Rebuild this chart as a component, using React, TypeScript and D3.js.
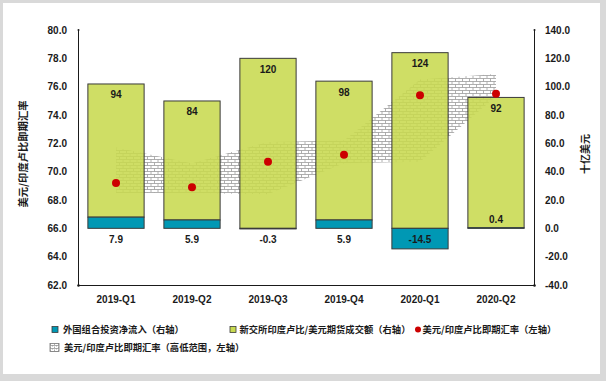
import React from "react";
import * as d3 from "d3";

const categories = ["2019-Q1", "2019-Q2", "2019-Q3", "2019-Q4", "2020-Q1", "2020-Q2"];
const fpiInflow = [7.9, 5.9, -0.3, 5.9, -14.5, 0.4];
const futuresVolume = [94, 84, 120, 98, 124, 92];
const spotRate = [69.2, 68.9, 70.7, 71.2, 75.4, 75.5];
const rangeHigh = [71.7, 70.6, 72.1, 72.2, 76.5, 76.9];
const rangeLow = [68.5, 68.5, 68.4, 70.6, 70.7, 75.3];
const leftTicks = [62, 64, 66, 68, 70, 72, 74, 76, 78, 80];
const rightTicks = [-40, -20, 0, 20, 40, 60, 80, 100, 120, 140];
const legendLabels = [
  "外国组合投资净流入（右轴）",
  "新交所印度卢比/美元期货成交额（右轴）",
  "美元/印度卢比即期汇率（左轴）",
  "美元/印度卢比即期汇率（高低范围，左轴）",
];
const leftTitle = "美元/印度卢比即期汇率";
const rightTitle = "十亿美元";

const W = 606;
const H = 381;
const plotL = 78;
const plotR = 534;
const plotT = 30;
const plotB = 285;

const GREEN = "#C8DA50";
const BLUE = "#0098B4";
const RED = "#CC0000";
const STROKE = "#3a3a3a";
const NUM_FONT = "'Liberation Sans', Arial, sans-serif";
const CJK_FONT = "'Noto Sans CJK SC', 'Noto Sans', sans-serif";

export default function App() {
  const x = d3
    .scaleBand<string>()
    .domain(categories)
    .range([plotL, plotR])
    .paddingInner(0.26)
    .paddingOuter(0.13);
  const yL = d3.scaleLinear().domain([62, 80]).range([plotB, plotT]);
  const yR = d3.scaleLinear().domain([-40, 140]).range([plotB, plotT]);
  const cx = (c: string) => (x(c) as number) + x.bandwidth() / 2;

  const band = d3
    .area<number>()
    .x((_, i) => cx(categories[i]))
    .y0((_, i) => yL(rangeLow[i]))
    .y1((_, i) => yL(rangeHigh[i]))(categories.map((_, i) => i)) as string;

  const y0 = yR(0);

  return (
    <svg
      width={W}
      height={H}
      style={{ position: "absolute", left: 0, top: 0, display: "block" }}
    >
      <defs>
        <pattern id="brick" width="7" height="6" patternUnits="userSpaceOnUse">
          <rect width="7" height="6" fill="#ffffff" />
          <path
            d="M0,0.5H7M0,3.5H7M0.5,0.5V3.5M4,3.5V6.5"
            stroke="#9a9a9a"
            strokeWidth={0.8}
            fill="none"
          />
        </pattern>
        <pattern id="brickSmall" width="4" height="3" patternUnits="userSpaceOnUse">
          <rect width="4" height="3" fill="#ffffff" />
          <path d="M0,0.5H4M0.5,0.5V1.5M2.5,1.5V3" stroke="#8a8a8a" strokeWidth={0.7} fill="none" />
        </pattern>
      </defs>
      <rect x={0} y={0} width={W} height={H} fill="#d9d9d9" />
      <rect x={3} y={3} width={597} height={371} fill="#ffffff" />

      {/* high-low range band */}
      <path d={band} fill="url(#brick)" />

      {/* bars */}
      {categories.map((c, i) => {
        const b = fpiInflow[i];
        const g = futuresVolume[i];
        const base = Math.max(0, b);
        const bx = x(c) as number;
        const bw = x.bandwidth();
        const gTop = yR(base + g);
        const gBot = yR(base);
        const bTop = yR(Math.max(0, b));
        const bBot = yR(Math.min(0, b));
        return (
          <g key={c}>
            <rect
              x={bx}
              y={gTop}
              width={bw}
              height={gBot - gTop}
              fill={GREEN}
              fillOpacity={0.88}
              stroke={STROKE}
              strokeWidth={1}
            />
            <rect
              x={bx}
              y={bTop}
              width={bw}
              height={Math.max(bBot - bTop, 0.6)}
              fill={BLUE}
              stroke={STROKE}
              strokeWidth={1}
            />
          </g>
        );
      })}

      {/* spot rate dots */}
      {categories.map((c, i) => (
        <circle key={c} cx={cx(c)} cy={yL(spotRate[i])} r={4} fill={RED} />
      ))}

      {/* value labels */}
      {categories.map((c, i) => {
        const base = Math.max(0, fpiInflow[i]);
        const gTop = yR(base + futuresVolume[i]);
        const b = fpiInflow[i];
        const by = b > 0 && b < 2 ? y0 - 9 : y0 + 11;
        return (
          <g key={c} fontFamily={NUM_FONT} fontWeight="bold" fontSize={10} fill="#1a1a1a" textAnchor="middle">
            <text x={cx(c)} y={gTop + 11} dy="0.35em">
              {futuresVolume[i]}
            </text>
            <text x={cx(c)} y={by} dy="0.35em">
              {b.toFixed(1)}
            </text>
          </g>
        );
      })}

      {/* axes */}
      <g stroke="#1a1a1a" strokeWidth={1}>
        <line x1={plotL + 0.5} x2={plotL + 0.5} y1={plotT} y2={plotB} />
        <line x1={plotR + 0.5} x2={plotR + 0.5} y1={plotT} y2={plotB} />
        <line x1={plotL} x2={plotR + 1} y1={plotB + 0.5} y2={plotB + 0.5} />
      </g>
      <g fill="#1a1a1a">
        <circle cx={plotL + 0.5} cy={plotT} r={1} />
        <circle cx={plotR + 0.5} cy={plotT} r={1} />
        <circle cx={plotL + 0.5} cy={plotB + 0.5} r={1.3} />
        <circle cx={plotR + 0.5} cy={plotB + 0.5} r={1.3} />
      </g>
      <g fontFamily={NUM_FONT} fontWeight="bold" fontSize={10} fill="#1a1a1a">
        {leftTicks.map((t) => (
          <text key={t} x={67} y={yL(t)} dy="0.35em" textAnchor="end">
            {t.toFixed(1)}
          </text>
        ))}
        {rightTicks.map((t) => (
          <text key={t} x={545} y={yR(t)} dy="0.35em" textAnchor="start">
            {t.toFixed(1)}
          </text>
        ))}
        {categories.map((c) => (
          <text key={c} x={cx(c)} y={299} dy="0.35em" textAnchor="middle">
            {c}
          </text>
        ))}
      </g>

      {/* axis titles */}
      <text
        transform={`translate(23,154) rotate(-90)`}
        textAnchor="middle"
        dy="0.35em"
        fontFamily={CJK_FONT}
        fontSize={10.3}
        fontWeight="bold"
        fill="#1a1a1a"
      >
        {leftTitle}
      </text>
      <text
        transform={`translate(585.5,154) rotate(-90)`}
        textAnchor="middle"
        dy="0.35em"
        fontFamily={CJK_FONT}
        fontSize={10}
        fontWeight="bold"
        fill="#1a1a1a"
      >
        {rightTitle}
      </text>

      {/* legend */}
      <g fontFamily={CJK_FONT} fontSize={9.3} fill="#1a1a1a" fontWeight="bold">
        <rect x={52} y={326.5} width={6} height={6} fill={BLUE} stroke={STROKE} strokeWidth={0.8} />
        <text x={63} y={329.5} dy="0.35em">{legendLabels[0]}</text>
        <rect x={230} y={326.5} width={6} height={6} fill={GREEN} stroke={STROKE} strokeWidth={0.8} />
        <text x={239.5} y={329.5} dy="0.35em">{legendLabels[1]}</text>
        <circle cx={418} cy={329.5} r={3} fill={RED} />
        <text x={422.5} y={329.5} dy="0.35em">{legendLabels[2]}</text>
        <rect x={50} y={343.5} width={9} height={8} fill="url(#brickSmall)" stroke="#777" strokeWidth={0.8} />
        <text x={64} y={347.7} dy="0.35em">{legendLabels[3]}</text>
      </g>
    </svg>
  );
}
